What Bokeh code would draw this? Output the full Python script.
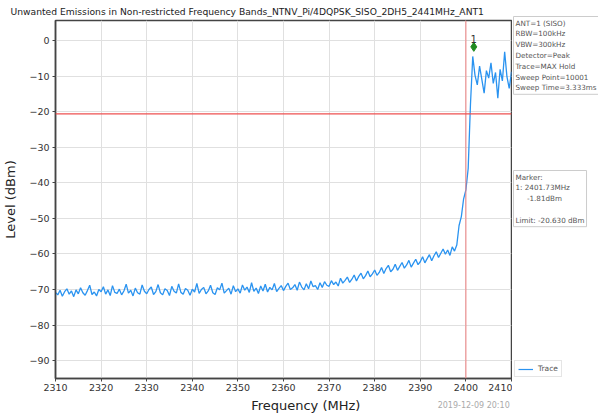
from bokeh.plotting import figure
from bokeh.layouts import row, column
from bokeh.models import Range1d, FixedTicker, Label, Span, Legend, LegendItem
from bokeh.embed import file_html
from bokeh.resources import INLINE

# ---------------- data ----------------
title_text = "Unwanted Emissions in Non-restricted Frequency Bands_NTNV_Pi/4DQPSK_SISO_2DH5_2441MHz_ANT1"
freq_start = 2310.0
freq_step = 0.5
level = [
    # 2310-2320
    -70.8, -71.5, -70.2, -71.9, -70.6, -69.8, -71.3, -70.4, -72.0, -70.1,
    -71.2, -69.5, -70.9, -71.6, -70.3, -68.8, -71.4, -70.7, -71.8, -70.0,
    # 2320-2330
    -70.6, -69.2, -71.3, -70.1, -71.7, -68.9, -70.8, -71.1, -69.9, -71.5,
    -70.4, -68.5, -71.0, -70.2, -71.8, -69.6, -70.9, -71.3, -68.7, -70.5,
    # 2330-2340
    -71.2, -70.0, -69.3, -71.4, -70.6, -68.6, -70.9, -71.5, -69.8, -70.3,
    -71.7, -69.1, -70.5, -71.0, -68.4, -70.8, -71.3, -69.7, -70.2, -71.6,
    # 2340-2350
    -69.9, -70.7, -68.3, -71.1, -70.0, -69.4, -71.2, -70.4, -68.8, -70.9,
    -71.4, -69.5, -70.1, -68.2, -71.0, -70.3, -69.6, -71.3, -68.9, -70.6,
    # 2350-2360
    -69.8, -71.0, -68.7, -70.2, -69.3, -70.8, -68.1, -70.5, -69.6, -71.1,
    -69.0, -70.4, -68.5, -70.7, -69.4, -70.1, -68.3, -70.6, -69.7, -68.9,
    # 2360-2370
    -70.3, -69.1, -68.2, -70.0, -69.5, -68.6, -70.2, -67.9, -69.3, -70.1,
    -68.4, -69.8, -67.6, -69.2, -68.9, -70.0, -68.1, -69.4, -67.8, -68.8,
    # 2370-2380
    -69.1, -67.5, -68.6, -67.9, -69.0, -66.8, -68.2, -67.4, -66.5, -68.0,
    -67.1, -65.9, -67.6, -66.3, -65.4, -67.0, -66.1, -64.8, -66.4, -65.6,
    # 2380-2390
    -64.5, -66.0, -65.2, -63.8, -65.5, -64.1, -63.2, -65.0, -64.3, -62.9,
    -64.6, -63.5, -62.4, -64.0, -63.1, -61.8, -63.7, -62.6, -61.5, -63.0,
    # 2390-2400
    -62.2, -60.8, -62.5, -61.3, -60.2, -61.9, -60.5, -59.4, -61.0, -59.8,
    -58.6, -60.1, -58.9, -60.4, -58.0, -59.2, -57.5, -52.0, -49.5, -44.5,
    # 2400-2410
    -42.0, -36.0, -18.0, -4.5, -9.8, -12.5, -7.2, -11.0, -14.8, -8.5,
    -10.6, -6.3, -12.1, -9.0, -16.2, -8.1, -11.4, -3.2, -10.2, -13.5, -8.8,
]
freq = [freq_start + i * freq_step for i in range(len(level))]

limit_level = -20.63
band_edge = 2400.0
marker_freq = 2401.73
marker_level = -1.81

x_ticks = list(range(2310, 2411, 10))
y_ticks = list(range(-90, 1, 10))

NB = "\u00a0"
info_text = ("ANT=1 (SISO)\nRBW=100kHz\nVBW=300kHz\nDetector=Peak\n"
             "Trace=MAX Hold\nSweep Point=10001\nSweep Time=3.333ms")
marker_text = ("Marker:\n1: 2401.73MHz\n" + NB * 5 + "-1.81dBm\n" + NB + "\nLimit: -20.630 dBm")
timestamp = "2019-12-09 20:10"
x_label = "Frequency (MHz)"
y_label = "Level (dBm)"

FONT = "DejaVu Sans"
TRACE_COLOR = "#2a93f0"

# ---------------- main figure ----------------
MAIN_W, MAIN_H = 512, 395
p = figure(width=MAIN_W, height=MAIN_H, output_backend="svg", toolbar_location=None,
           x_range=Range1d(2310, 2410), y_range=Range1d(-95, 5.6),
           min_border_left=53, min_border_right=1, min_border_top=0,
           min_border_bottom=17)
p.title.text = title_text
p.title.align = "left"
p.title.offset = -45
p.title.standoff = 7
p.title.text_font = FONT
p.title.text_font_size = "9.2px"
p.title.text_font_style = "normal"
p.title.text_color = "#222222"
p.background_fill_color = "white"
p.border_fill_color = "white"
p.outline_line_color = "#444444"
p.outline_line_width = 1.5

for ax in (p.xaxis[0], p.yaxis[0]):
    ax.axis_line_color = "#444444"
    ax.axis_line_width = 1.5
    ax.major_tick_in = 0
    ax.major_tick_out = 3
    ax.major_tick_line_color = "#444444"
    ax.minor_tick_line_color = None
    ax.major_label_text_font = FONT
    ax.major_label_text_font_size = "9.5px"
    ax.major_label_text_color = "#333333"
    ax.axis_label_text_font = FONT
    ax.axis_label_text_font_size = "13px"
    ax.axis_label_text_font_style = "normal"
    ax.axis_label_text_color = "#222222"

p.xaxis.ticker = FixedTicker(ticks=x_ticks)
p.yaxis.ticker = FixedTicker(ticks=y_ticks)
p.yaxis.major_label_overrides = {t: ("\u2212" + str(abs(t)) if t < 0 else str(t)) for t in y_ticks}
p.yaxis.axis_label = y_label
p.xaxis.major_label_standoff = 2
p.xaxis.axis_label_standoff = 0
p.yaxis.major_label_standoff = 3
p.yaxis.axis_label_standoff = 8

p.xgrid.grid_line_color = "#e0e0e0"
p.ygrid.grid_line_color = "#e0e0e0"

p.add_layout(Span(location=band_edge, dimension="height", line_color="#f08080", line_width=1))
p.add_layout(Span(location=limit_level, dimension="width", line_color="#ee5050", line_width=1.2))

trace = p.line(freq, level, line_color=TRACE_COLOR, line_width=1.3)
p.scatter([marker_freq], [marker_level], marker="diamond", size=9,
          fill_color="#1f8a1f", line_color="#1f8a1f")
p.add_layout(Label(x=marker_freq, y=marker_level, text="1", text_align="center",
                   text_baseline="bottom", y_offset=4, text_font=FONT,
                   text_font_size="10px", text_color="#333333"))

# ---------------- bottom strip (x label + timestamp) ----------------
STRIP_H = 21
strip = figure(width=MAIN_W, height=STRIP_H, output_backend="svg", toolbar_location=None,
               x_range=Range1d(0, MAIN_W), y_range=Range1d(0, STRIP_H),
               x_axis_type=None, y_axis_type=None, min_border=0)
strip.outline_line_color = None
strip.xgrid.visible = False
strip.ygrid.visible = False
strip.add_layout(Label(x=281, y=11, text=x_label, text_align="center",
                       text_baseline="middle", text_font=FONT, text_font_size="13px",
                       text_color="#222222"))
strip.add_layout(Label(x=510, y=11, text=timestamp, text_align="right",
                       text_baseline="middle", text_font=FONT, text_font_size="8px",
                       text_color="#aaaaaa"))

# ---------------- side panel (info boxes + legend) ----------------
SIDE_W, SIDE_H = 86, MAIN_H + STRIP_H
side = figure(width=SIDE_W, height=SIDE_H, output_backend="svg", toolbar_location=None,
              x_range=Range1d(0, SIDE_W), y_range=Range1d(SIDE_H, 0),
              x_axis_type=None, y_axis_type=None, min_border=0)
side.outline_line_color = None
side.xgrid.visible = False
side.ygrid.visible = False
side.add_layout(Label(x=1, y=16, text=info_text, text_align="left", text_baseline="top",
                      text_font=FONT, text_font_size="7.2px", text_color="#555555",
                      text_line_height=1.2, border_line_color="#cccccc",
                      background_fill_color="white", padding=2))
side.add_layout(Label(x=1, y=170, text=marker_text, text_align="left", text_baseline="top",
                      text_font=FONT, text_font_size="7.2px", text_color="#555555",
                      text_line_height=1.2, border_line_color="#cccccc",
                      background_fill_color="white", padding=2))
legend_line = side.line(x=[float("nan")], y=[float("nan")], line_color=TRACE_COLOR, line_width=1.2)
legend = Legend(items=[LegendItem(label="Trace", renderers=[legend_line])], location=(2, 39),
                label_text_font=FONT, label_text_font_size="7.5px", label_text_color="#555555",
                glyph_width=15, glyph_height=8, label_height=8, label_standoff=5,
                padding=3, spacing=0, margin=0, border_line_color="#cccccc",
                background_fill_alpha=1.0)
side.add_layout(legend)

layout = row(column(p, strip), side)
open("out.html", "w").write(file_html(layout, INLINE))
